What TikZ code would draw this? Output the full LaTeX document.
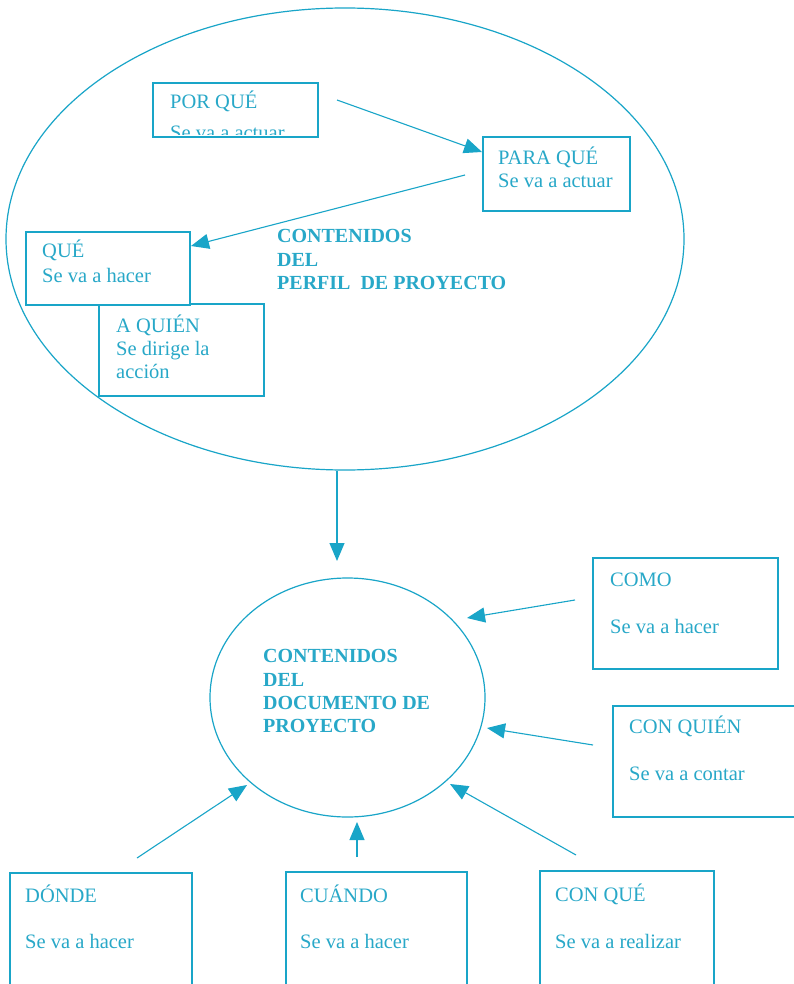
\documentclass[tikz,border=0pt]{standalone}
\usepackage{fontspec}
\setmainfont{Liberation Serif}
\usetikzlibrary{arrows.meta,shapes.geometric}
\definecolor{cy}{RGB}{25,165,200}
\definecolor{cyt}{RGB}{40,168,200}
\begin{document}
\begin{tikzpicture}[x=1pt,y=-1pt,
  box/.style={draw=cy, line width=1.3pt, fill=white, rectangle, inner sep=0pt},
  oval/.style={draw=cy, line width=1.2pt, ellipse, inner sep=0pt},
  lbl/.style={anchor=base west, inner sep=0pt, text=cyt, font=\fontsize{20.5}{23}\selectfont},
  blbl/.style={anchor=base west, inner sep=0pt, text=cyt, font=\fontsize{20}{23}\selectfont\bfseries},
  arr/.style={draw=cy, line width=1.1pt, -{Triangle[length=18pt,width=15pt]}}]
\useasboundingbox (0,0) rectangle (794,984);
\clip (0,0) rectangle (794,984);
\fill[white] (0,0) rectangle (794,984);

% big ellipse and circle
\node[oval, minimum width=678pt, minimum height=462pt] (perfil) at (345,239) {};
\node[oval, minimum width=275pt, minimum height=239pt] (doc) at (347.5,697.5) {};

% boxes in the ellipse
\node[box, minimum width=165pt, minimum height=54pt] (porque) at (235.5,110) {};
\node[box, minimum width=147pt, minimum height=74pt] (paraque) at (556.5,174) {};
\node[box, minimum width=165pt, minimum height=92pt] (aquien) at (181.5,350) {};
\node[box, minimum width=164pt, minimum height=73pt] (que) at (108,268.5) {};

% outer boxes
\node[box, minimum width=185pt, minimum height=111pt] (como) at (685.5,613.5) {};
\node[box, minimum width=187pt, minimum height=111pt] (conquien) at (706.5,761.5) {};
\node[box, minimum width=182pt, minimum height=119pt] (donde) at (101,932.5) {};
\node[box, minimum width=181pt, minimum height=120pt] (cuando) at (376.5,932) {};
\node[box, minimum width=174pt, minimum height=121pt] (conque) at (627,931.5) {};

% texts
\node[lbl] (t-porque) at (170,109) {POR QUÉ};
\begin{scope}
  \clip (154,84) rectangle (317,134.5);
  \node[lbl] (t-porque2) at (170,139.5) {Se va a actuar};
\end{scope}
\node[lbl] (t-paraque) at (498,165) {PARA QUÉ};
\node[lbl] (t-paraque2) at (498,188) {Se va a actuar};
\node[lbl] (t-que) at (42,258) {QUÉ};
\node[lbl] (t-que2) at (42,282) {Se va a hacer};
\node[lbl] (t-aquien) at (116,332) {A QUIÉN};
\node[lbl] (t-aquien2) at (116,355) {Se dirige la};
\node[lbl] (t-aquien3) at (116,378) {acción};

\node[blbl] (p1) at (277,242) {CONTENIDOS};
\node[blbl] (p2) at (277,266) {DEL};
\node[blbl] (p3) at (277,289) {PERFIL\ \ DE PROYECTO};

\node[blbl] (d1) at (263,662) {CONTENIDOS};
\node[blbl] (d2) at (263,686) {DEL};
\node[blbl] (d3) at (263,709) {DOCUMENTO DE};
\node[blbl] (d4) at (263,732) {PROYECTO};

\node[lbl] (t-como) at (610,586) {COMO};
\node[lbl] (t-como2) at (610,633) {Se va a hacer};
\node[lbl] (t-conquien) at (629,733) {CON QUIÉN};
\node[lbl] (t-conquien2) at (629,780) {Se va a contar};
\node[lbl] (t-donde) at (25,902) {DÓNDE};
\node[lbl] (t-donde2) at (25,948) {Se va a hacer};
\node[lbl] (t-cuando) at (300,902) {CUÁNDO};
\node[lbl] (t-cuando2) at (300,948) {Se va a hacer};
\node[lbl] (t-conque) at (555,901) {CON QUÉ};
\node[lbl] (t-conque2) at (555,948) {Se va a realizar};

% connector end points
\coordinate (a1s) at (337,100);  \coordinate (a1e) at (482,152);
\coordinate (a2s) at (465,175);  \coordinate (a2e) at (191,246);
\coordinate (a3s) at (337,471);  \coordinate (a3e) at (337,561);
\coordinate (a4s) at (575,600);  \coordinate (a4e) at (467,618);
\coordinate (a5s) at (593,745);  \coordinate (a5e) at (487,728);
\coordinate (a6s) at (137,858);  \coordinate (a6e) at (247,785);
\coordinate (a7s) at (357,857);  \coordinate (a7e) at (357,822);
\coordinate (a8s) at (576,855);  \coordinate (a8e) at (450,784);

\draw[arr] (a1s) -- (a1e);
\draw[arr] (a2s) -- (a2e);
\draw[arr] (a3s) -- (a3e);
\draw[arr] (a4s) -- (a4e);
\draw[arr] (a5s) -- (a5e);
\draw[arr] (a6s) -- (a6e);
\draw[arr] (a7s) -- (a7e);
\draw[arr] (a8s) -- (a8e);
\end{tikzpicture}
\end{document}
